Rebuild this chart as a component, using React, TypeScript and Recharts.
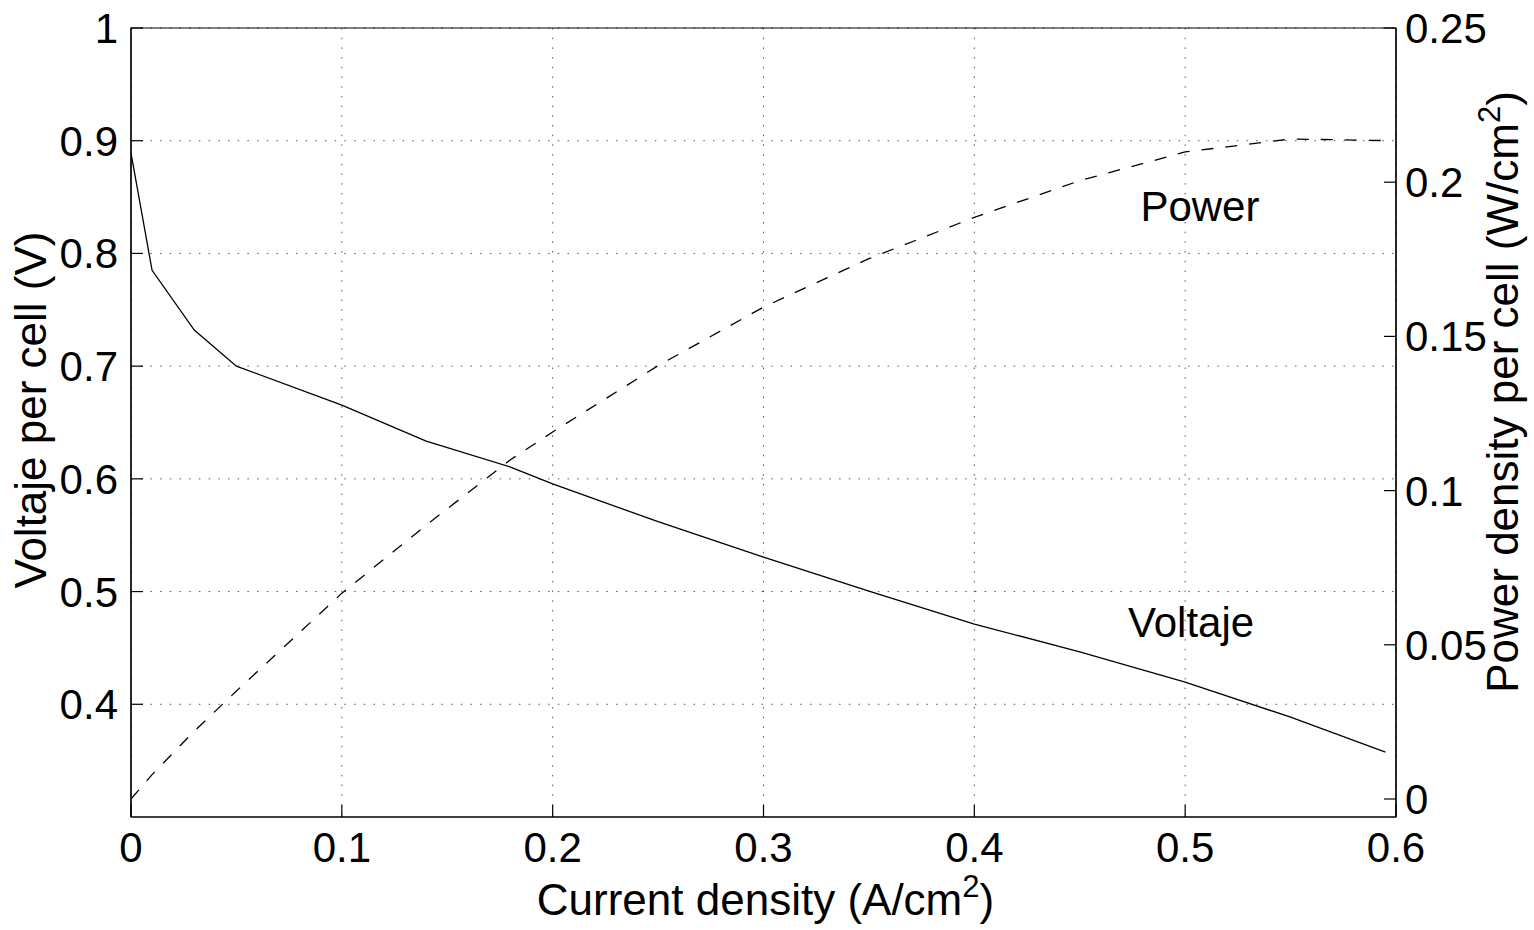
import React from 'react';
import {
  ComposedChart,
  Line,
  XAxis,
  YAxis,
  CartesianGrid,
  ReferenceDot,
  ReferenceArea,
  Label,
} from 'recharts';

// Current density (A/cm^2)
const currentDensity = [0, 0.01, 0.03, 0.05, 0.1, 0.14, 0.18, 0.2, 0.25, 0.3, 0.35, 0.4, 0.45, 0.5, 0.55, 0.595];
// Voltage per cell (V)
const voltage = [0.889, 0.785, 0.732, 0.7, 0.6655, 0.6335, 0.6105, 0.5955, 0.562, 0.5306, 0.5005, 0.4712, 0.4465, 0.4197, 0.3886, 0.3576];
// Power density per cell (W/cm^2)
const power = [0, 0.0079, 0.022, 0.035, 0.0667, 0.0888, 0.11, 0.119, 0.1405, 0.1595, 0.1752, 0.1886, 0.2005, 0.2098, 0.214, 0.2135];

const xTicks = [0, 0.1, 0.2, 0.3, 0.4, 0.5, 0.6];
const voltageTicks = [0.4, 0.5, 0.6, 0.7, 0.8, 0.9, 1];
const powerTicks = [0, 0.05, 0.1, 0.15, 0.2, 0.25];

const data = currentDensity.map((x, i) => ({ x, voltage: voltage[i], power: power[i] }));

const FONT = '"Liberation Sans", Arial, Helvetica, sans-serif';
const FS = 42;
const TFS = 44;
const TICK_LEN = 12;

const fmt = (v: number) => String(Number(v.toFixed(3)));

const XTick = (props: any) => {
  const { x, y, payload } = props;
  return (
    <g>
      <line x1={x} x2={x} y1={y} y2={y - TICK_LEN} stroke="#000" strokeWidth={1.2} />
      <text x={x} y={y + 45} textAnchor="middle" fontSize={FS} fontFamily={FONT} fill="#000">
        {fmt(payload.value)}
      </text>
    </g>
  );
};

const LeftTick = (props: any) => {
  const { x, y, payload } = props;
  return (
    <g>
      <line x1={x} x2={x + TICK_LEN} y1={y} y2={y} stroke="#000" strokeWidth={1.2} />
      <text x={x - 13} y={y + 15} textAnchor="end" fontSize={FS} fontFamily={FONT} fill="#000">
        {fmt(payload.value)}
      </text>
    </g>
  );
};

const RightTick = (props: any) => {
  const { x, y, payload } = props;
  return (
    <g>
      <line x1={x} x2={x - TICK_LEN} y1={y} y2={y} stroke="#000" strokeWidth={1.2} />
      <text x={x + 9} y={y + 15} textAnchor="start" fontSize={FS} fontFamily={FONT} fill="#000">
        {fmt(payload.value)}
      </text>
    </g>
  );
};

const XTitle = (props: any) => {
  const { viewBox } = props;
  const cx = viewBox.x + viewBox.width / 2 + 2;
  const by = viewBox.y + 98;
  return (
    <text x={cx} y={by} textAnchor="middle" fontSize={TFS} fontFamily={FONT} fill="#000">
      <tspan>Current density (A/cm</tspan>
      <tspan dy={-18} fontSize={31}>2</tspan>
      <tspan dy={18}>)</tspan>
    </text>
  );
};

const LeftTitle = (props: any) => {
  const { viewBox } = props;
  const bx = viewBox.x + 46;
  const cy = 410;
  return (
    <text
      x={bx}
      y={cy}
      transform={`rotate(-90 ${bx} ${cy})`}
      textAnchor="middle"
      fontSize={TFS}
      fontFamily={FONT}
      fill="#000"
    >
      Voltaje per cell (V)
    </text>
  );
};

const RightTitle = (props: any) => {
  const { viewBox } = props;
  const bx = viewBox.x + 122;
  const cy = 392;
  return (
    <text
      x={bx}
      y={cy}
      transform={`rotate(-90 ${bx} ${cy})`}
      textAnchor="middle"
      fontSize={TFS}
      fontFamily={FONT}
      fill="#000"
    >
      <tspan>Power density per cell (W/cm</tspan>
      <tspan dy={-18} fontSize={31}>2</tspan>
      <tspan dy={18}>)</tspan>
    </text>
  );
};

const makeAnnotation = (text: string) => (props: any) => {
  const { viewBox } = props;
  return (
    <text x={viewBox.x} y={viewBox.y} textAnchor="middle" fontSize={FS} fontFamily={FONT} fill="#000">
      {text}
    </text>
  );
};

export default function App() {
  return (
    <div style={{ position: 'absolute', left: 0, top: 0, width: 1534, height: 930, background: '#fff' }}>
      <ComposedChart
        width={1534}
        height={930}
        data={data}
        margin={{ top: 28, right: 0, bottom: 0, left: 0 }}
      >
        <CartesianGrid
          yAxisId="left"
          stroke="#555"
          strokeWidth={1}
          strokeDasharray="1.5 8.2"
          horizontalValues={voltageTicks}
          verticalValues={xTicks}
        />
        <XAxis
          dataKey="x"
          type="number"
          domain={[0, 0.6]}
          ticks={xTicks}
          allowDataOverflow
          height={113}
          tickSize={0}
          tickMargin={0}
          tickLine={false}
          axisLine={{ stroke: '#000', strokeWidth: 1.2 }}
          tick={<XTick />}
          interval={0}
        >
          <Label content={<XTitle />} />
        </XAxis>
        <YAxis
          yAxisId="left"
          orientation="left"
          type="number"
          domain={[0.3, 1]}
          ticks={voltageTicks}
          allowDataOverflow
          width={131}
          tickSize={0}
          tickMargin={0}
          tickLine={false}
          axisLine={{ stroke: '#000', strokeWidth: 1.2 }}
          tick={<LeftTick />}
          interval={0}
        >
          <Label content={<LeftTitle />} />
        </YAxis>
        <YAxis
          yAxisId="right"
          orientation="right"
          type="number"
          domain={[-0.00584, 0.25]}
          ticks={powerTicks}
          allowDataOverflow
          width={138}
          tickSize={0}
          tickMargin={0}
          tickLine={false}
          axisLine={{ stroke: '#000', strokeWidth: 1.2 }}
          tick={<RightTick />}
          interval={0}
        >
          <Label content={<RightTitle />} />
        </YAxis>
        <ReferenceArea
          yAxisId="left"
          x1={0}
          x2={0.6}
          y1={0.3}
          y2={1}
          fill="none"
          fillOpacity={0}
          stroke="#000"
          strokeWidth={1.2}
          ifOverflow="visible"
        />
        <Line
          yAxisId="left"
          type="linear"
          dataKey="voltage"
          stroke="#000"
          strokeWidth={1.3}
          dot={false}
          activeDot={false}
          isAnimationActive={false}
        />
        <Line
          yAxisId="right"
          type="linear"
          dataKey="power"
          stroke="#000"
          strokeWidth={1.3}
          strokeDasharray="12 12"
          dot={false}
          activeDot={false}
          isAnimationActive={false}
        />
        <ReferenceDot
          yAxisId="right"
          x={0.507}
          y={0.1873}
          r={0}
          fill="none"
          stroke="none"
          ifOverflow="visible"
          label={{ content: makeAnnotation('Power') } as any}
        />
        <ReferenceDot
          yAxisId="left"
          x={0.5028}
          y={0.4596}
          r={0}
          fill="none"
          stroke="none"
          ifOverflow="visible"
          label={{ content: makeAnnotation('Voltaje') } as any}
        />
      </ComposedChart>
    </div>
  );
}
